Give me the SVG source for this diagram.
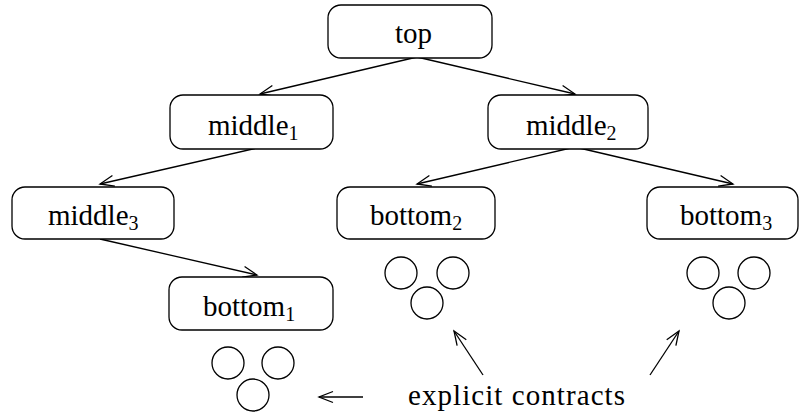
<svg xmlns="http://www.w3.org/2000/svg" width="800" height="417" viewBox="0 0 800 417">
<style>
.box{fill:#fff;stroke:#000;stroke-width:1.3}
.lbl{font-family:"Liberation Serif","Times New Roman",serif;font-size:29px;fill:#000}
.sub{font-size:20px}
.c{fill:none;stroke:#000;stroke-width:1.3}
.edge{fill:none;stroke:#000;stroke-width:1.3;marker-end:url(#ah)}
</style>
<defs>
<marker id="ah" markerUnits="userSpaceOnUse" markerWidth="20" markerHeight="14" refX="16" refY="7" orient="auto" overflow="visible">
<path d="M2,1.5 L16,7 L2,12.5" fill="none" stroke="#000" stroke-width="1.3"/>
</marker>
</defs>
<g id="connectors">
<line class="edge" x1="417" y1="57" x2="260" y2="94"/>
<line class="edge" x1="417" y1="57" x2="575" y2="94"/>
<line class="edge" x1="257" y1="148" x2="100" y2="184"/>
<line class="edge" x1="575" y1="147" x2="417" y2="184"/>
<line class="edge" x1="575" y1="147" x2="733" y2="184"/>
<line class="edge" x1="100" y1="239" x2="257" y2="275"/>
<line class="edge" x1="363" y1="397" x2="319" y2="397"/>
<line class="edge" x1="483" y1="375" x2="454" y2="331"/>
<line class="edge" x1="650" y1="375" x2="679" y2="331"/>
</g>
<g id="top">
<rect class="box" x="328" y="5" width="164" height="53" rx="13"/>
<text class="lbl" x="395" y="43">top</text>
</g>
<g id="middle1">
<rect class="box" x="170" y="95" width="163" height="54" rx="13"/>
<text class="lbl" x="208" y="135">middle<tspan class="sub" dy="5">1</tspan></text>
</g>
<g id="middle2">
<rect class="box" x="488" y="95" width="160" height="54" rx="13"/>
<text class="lbl" x="526" y="135">middle<tspan class="sub" dy="5">2</tspan></text>
</g>
<g id="middle3">
<rect class="box" x="12" y="187" width="162" height="52" rx="13"/>
<text class="lbl" x="48" y="225">middle<tspan class="sub" dy="5">3</tspan></text>
</g>
<g id="bottom2">
<rect class="box" x="337" y="187" width="158" height="52" rx="13"/>
<text class="lbl" x="370" y="225">bottom<tspan class="sub" dy="5">2</tspan></text>
</g>
<g id="bottom3">
<rect class="box" x="647" y="187" width="151" height="52" rx="13"/>
<text class="lbl" x="680" y="225">bottom<tspan class="sub" dy="5">3</tspan></text>
</g>
<g id="bottom1">
<rect class="box" x="169" y="277" width="164" height="53" rx="13"/>
<text class="lbl" x="203" y="316">bottom<tspan class="sub" dy="5">1</tspan></text>
</g>
<g id="contracts1">
<circle class="c" cx="228" cy="363" r="16"/>
<circle class="c" cx="278" cy="363" r="16"/>
<circle class="c" cx="253" cy="395" r="16"/>
</g>
<g id="contracts2">
<circle class="c" cx="401" cy="273" r="16"/>
<circle class="c" cx="453" cy="273" r="16"/>
<circle class="c" cx="427" cy="303" r="16"/>
</g>
<g id="contracts3">
<circle class="c" cx="703" cy="273" r="16"/>
<circle class="c" cx="754" cy="273" r="16"/>
<circle class="c" cx="729" cy="303" r="16"/>
</g>
<g id="label">
<text class="lbl" x="408" y="405" textLength="217">explicit contracts</text>
</g>
</svg>
